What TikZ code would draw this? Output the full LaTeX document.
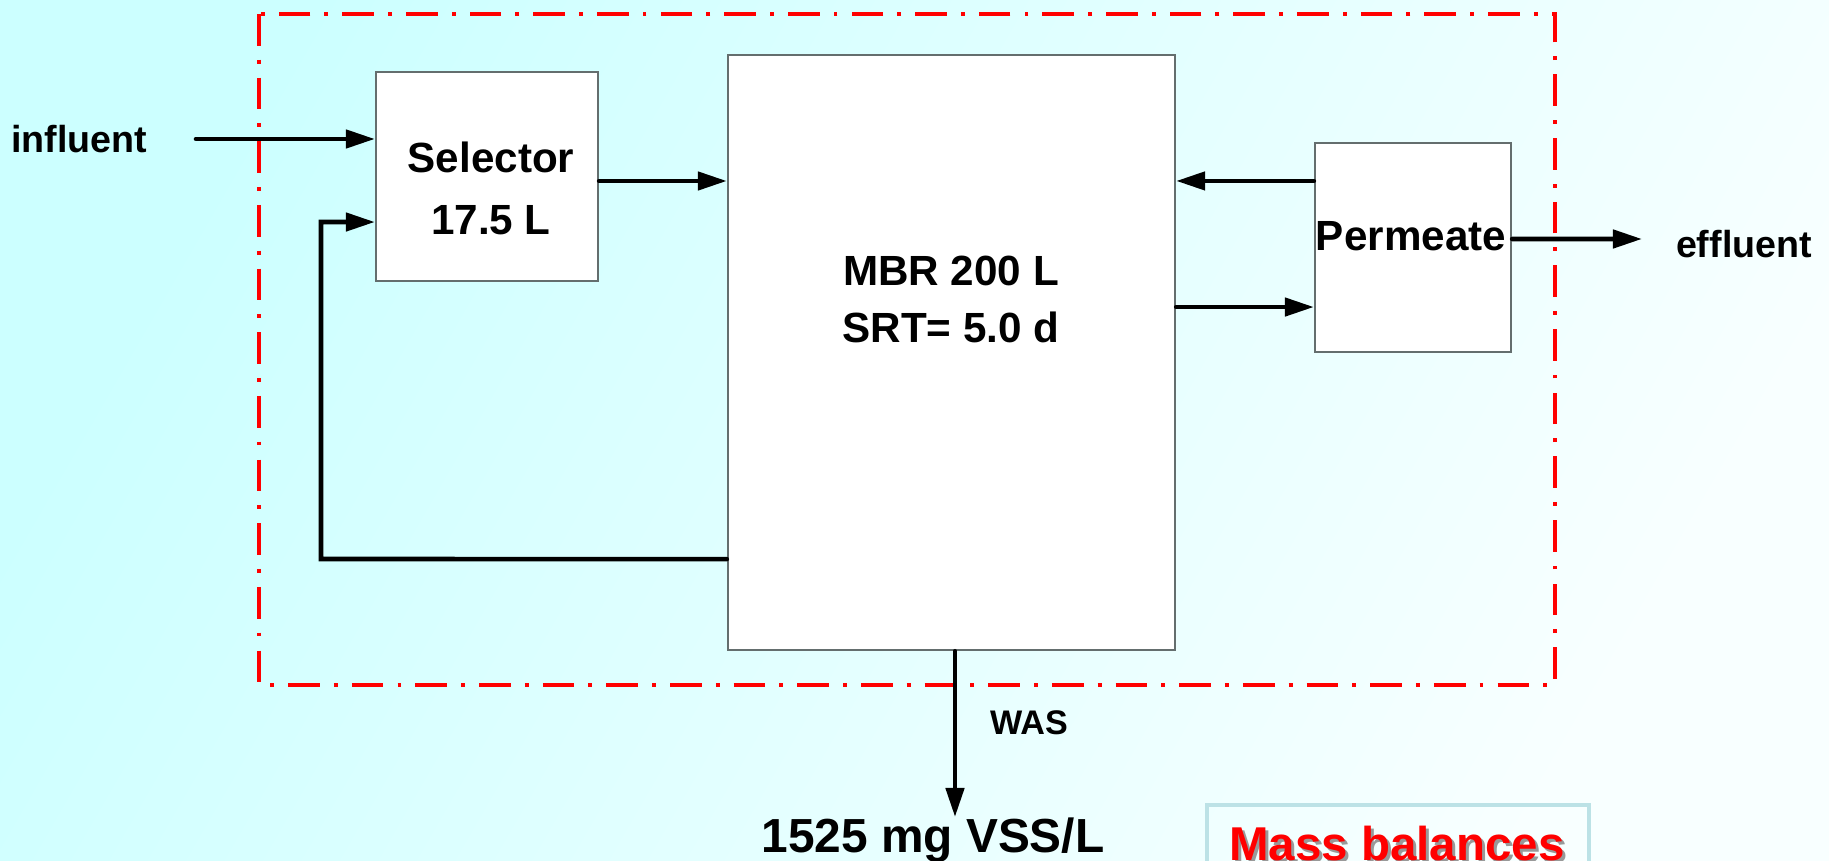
\documentclass[tikz,border=0pt]{standalone}
\usepackage{fontspec}
\setsansfont{Liberation Sans}
\usepackage{tikz}
\usetikzlibrary{arrows.meta, positioning}
\tikzset{every picture/.style={/utils/exec={\sffamily\bfseries}}}
\definecolor{bgA}{RGB}{204,255,255}
\definecolor{bgB}{RGB}{248,255,255}
\definecolor{boxline}{RGB}{100,110,110}
\definecolor{mbline}{RGB}{188,226,230}

\begin{document}
\begin{tikzpicture}[x=0.01cm, y=-0.01cm, >={Triangle[length=0.29cm, width=0.18cm]},
    unit/.style={draw=boxline, fill=white, line width=0.6pt, inner sep=0pt},
    flow/.style={->, line width=1.3pt, line cap=round},
    bound/.style={draw=red, line width=1.3pt, dash pattern=on 9pt off 4pt on 1.1pt off 4pt},
    lbl/.style={font=\fontsize{12}{17.6}\selectfont, align=center, inner sep=0pt}]
        % Background
        \useasboundingbox (0,0) rectangle (1829,861);
        \shade[top color=bgA, bottom color=bgB, shading angle=60] (0,0) rectangle (1829,861);

        % Boundary
        \draw[bound] (259,14) rectangle (1555,685);

        % Nodes
        \node[unit, minimum width=2.22cm, minimum height=2.09cm] (sel) at (487,176.5) {};
        \node[unit, minimum width=4.47cm, minimum height=5.95cm] (mbr) at (951.5,352.5) {};
        \node[unit, minimum width=1.96cm, minimum height=2.09cm] (perm) at (1413,247.5) {};
        \node[lbl] (selt) at (491,188) {Selector\\17.5 L};
        \node[lbl, font=\fontsize{12}{16.2}\selectfont] (mbrt) at (951,299) {MBR 200 L\\SRT= 5.0 d};
        \node[lbl] (permt) at (1411,236) {Permeate};
        \node[font=\fontsize{10.7}{12}\selectfont] (infl) at (79,139) {influent};
        \node[font=\fontsize{10.7}{12}\selectfont] (effl) at (1744,244) {effluent};
        \node[font=\fontsize{9.7}{11}\selectfont] (was) at (1029,723) {WAS};
        \node[font=\fontsize{13.6}{15}\selectfont] (vss) at (933,840) {1525 mg VSS/L};
        \coordinate (inA) at (196,139);
        \coordinate (outA) at (1642,239);
        \coordinate (rc) at (321,559);
        \coordinate (wasA) at (955,817);

        % Flows
        \draw[flow] (inA) -- (sel.west |- inA);
        \draw[flow] ([yshift=-0.045cm]sel.east) -- ([yshift=-0.045cm]sel.east -| mbr.west);
        \draw[flow] ([yshift=0.665cm]perm.west) -- ([yshift=0.665cm]perm.west -| mbr.east);
        \draw[flow] ([yshift=-0.595cm]perm.west -| mbr.east) -- ([yshift=-0.595cm]perm.west);
        \draw[flow] ([yshift=0.085cm]perm.east) -- (outA);
        \draw[flow] ([yshift=-2.065cm]mbr.west) -- (rc) |- ([yshift=-0.455cm]sel.west);
        \draw[flow] (wasA |- mbr.south) -- (wasA);

        % Mass balances
        \draw[draw=mbline, line width=1.2pt] (1207,805) rectangle (1589,905);
        \node[font=\fontsize{13.5}{15}\selectfont, text=black!40, anchor=base] (mbs) at (1400,864) {Mass balances};
        \node[font=\fontsize{13.5}{15}\selectfont, text=red, anchor=base] (mb) at (1397,861) {Mass balances};
\end{tikzpicture}
\end{document}
